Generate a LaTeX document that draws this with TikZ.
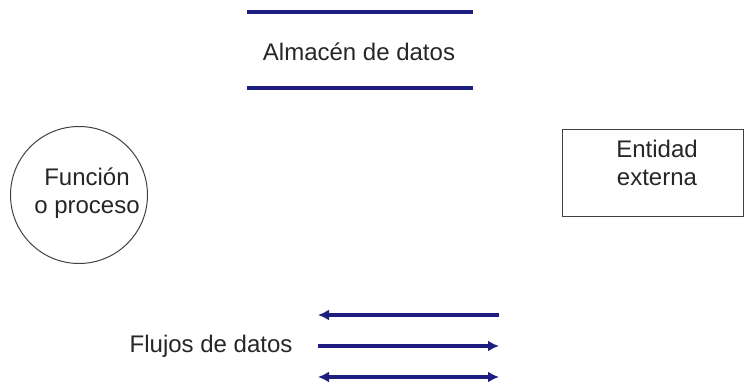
\documentclass[tikz,border=0pt]{standalone}
\usepackage{fontspec}
\setmainfont{Liberation Sans}
\usetikzlibrary{arrows.meta}
\definecolor{navy}{RGB}{30,30,130}
\begin{document}
\begin{tikzpicture}[x=1pt,y=-1pt,
  lbl/.style={font=\fontsize{24}{28}\selectfont, text=black!85, align=center},
  storeline/.style={draw=navy, line width=3.2pt},
  flow/.style={draw=navy, line width=3.2pt, -{Latex[length=11pt,width=11pt]}},
  flowl/.style={draw=navy, line width=3.2pt, {Latex[length=11pt,width=11pt]}-},
  flowb/.style={draw=navy, line width=3.2pt, {Latex[length=11pt,width=11pt]}-{Latex[length=11pt,width=11pt]}}]
\useasboundingbox (0,0) rectangle (745,385);
% data store
\coordinate (s1a) at (247,12); \coordinate (s1b) at (473,12);
\coordinate (s2a) at (247,88); \coordinate (s2b) at (473,88);
\draw[storeline] (s1a) -- (s1b);
\draw[storeline] (s2a) -- (s2b);
\node[lbl] (store) at (359,52) {Almacén de datos};
% process
\node[circle, draw=black!75, line width=1pt, minimum size=137pt, inner sep=0pt] (proc) at (79,195) {};
\node[lbl] (proct) at (87,193) {Función\\o proceso};
% external entity
\node[draw=black!75, line width=1pt, minimum width=181pt, minimum height=87pt, inner sep=0pt] (ent) at (652.5,173.5) {};
\node[lbl, anchor=north] (entt) at (657,137) {Entidad\\externa};
% flows
\node[lbl, anchor=east] (flab) at (296,346) {Flujos de datos};
\coordinate (f1a) at (318,315); \coordinate (f1b) at (499,315);
\coordinate (f2a) at (318,346); \coordinate (f2b) at (499,346);
\coordinate (f3a) at (318,377); \coordinate (f3b) at (499,377);
\draw[flowl] (f1a) -- (f1b);
\draw[flow] (f2a) -- (f2b);
\draw[flowb] (f3a) -- (f3b);
\end{tikzpicture}
\end{document}
